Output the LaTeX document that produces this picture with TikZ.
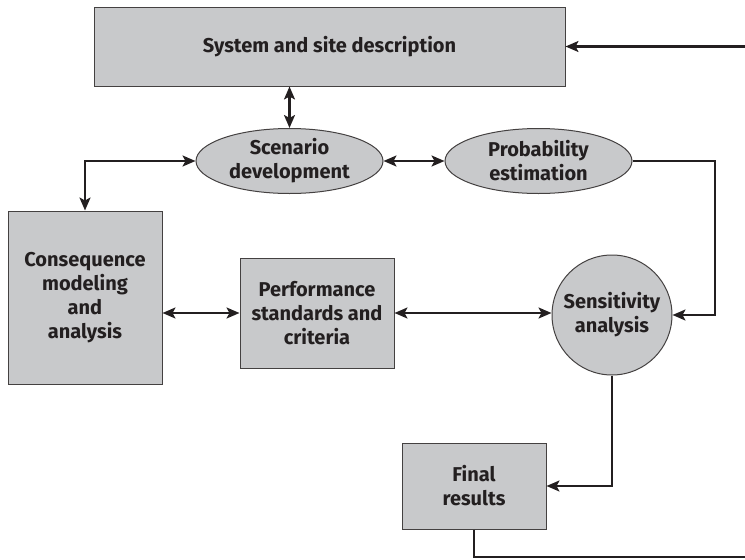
\documentclass[tikz,border=0pt]{standalone}
\usepackage{fontspec}
\setmainfont{Fira Sans}
\usetikzlibrary{arrows.meta}
\usetikzlibrary{shapes.geometric}

\definecolor{boxgray}{HTML}{C8C9CB}
\definecolor{inkdark}{HTML}{231F20}

\begin{document}
\begin{tikzpicture}[x=1pt,y=-1pt,
  blockbox/.style={rectangle,draw=inkdark!85,line width=1pt,fill=boxgray,align=center,
    inner sep=0pt,font=\fontsize{20}{24}\selectfont\bfseries,text=inkdark},
  blockoval/.style={blockbox,ellipse},
  link/.style={inkdark,line width=2.2pt},
  tip/.tip={Stealth[length=13pt,width=11pt,inset=3pt]}]
\useasboundingbox (0,0) rectangle (745,560);

% boxes and ovals
\node[blockbox,minimum width=471pt,minimum height=79pt] (sys) at (329.5,46.5) {System and site description};
\node[blockoval,minimum width=187pt,minimum height=65pt] (scen) at (289.5,161) {Scenario\\development};
\node[blockoval,minimum width=187pt,minimum height=65pt] (prob) at (538.5,161) {Probability\\estimation};
\node[blockbox,minimum width=154pt,minimum height=173pt] (cons) at (85,297.5) {Consequence\\modeling\\and\\analysis};
\node[blockbox,minimum width=154pt,minimum height=110pt] (perf) at (317,313) {Performance\\standards and\\criteria};
\node[blockoval,circle,minimum size=120pt] (sens) at (612,315) {Sensitivity\\analysis};
\node[blockbox,minimum width=144pt,minimum height=86pt] (fin) at (474,486) {Final\\results};

% loop ends at the right edge
\coordinate (rt) at (715,161);
\coordinate (loopbot) at (746,557);
\coordinate (looptop) at (746,46.5);

% connectors
\draw[link,tip-tip] (scen.north |- sys.south) -- (scen.north);
\draw[link,tip-tip] (scen.east) -- (prob.west);
\draw[link,tip-tip] (scen.west) -| (cons.north);
\draw[link,tip-tip] (cons.east |- perf.west) -- (perf.west);
\draw[link,tip-tip] (perf.east) -- (perf.east -| sens.west);
\draw[link,-tip] (prob.east) -- (rt) |- (sens.east);
\draw[link,-tip] (sens.south) |- (fin.east);
\draw[link] (fin.south) |- (loopbot);
\draw[link,-tip] (looptop) -- (sys.east);

\end{tikzpicture}
\end{document}
